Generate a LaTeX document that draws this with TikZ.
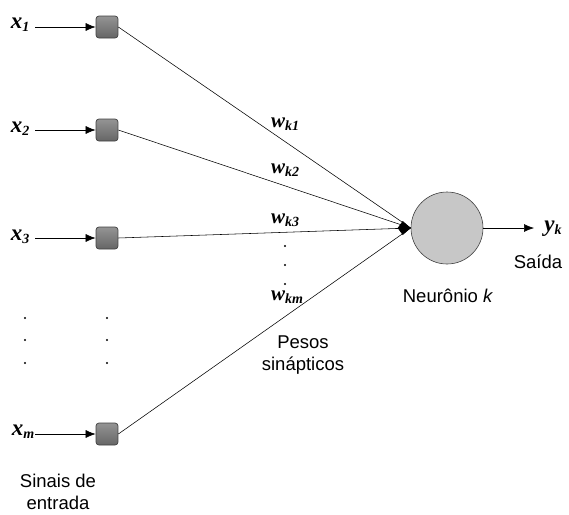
\documentclass[tikz,border=0pt]{standalone}
\usepackage{fontspec}
\setmainfont{Liberation Serif}
\setsansfont{Liberation Sans}
\usetikzlibrary{arrows.meta}
\newcommand{\sbs}[1]{\raisebox{-0.3ex}{\fontsize{14}{14}\selectfont #1}}
\begin{document}
\begin{tikzpicture}[x=1pt,y=-1pt,
  inbox/.style={draw=black!75,line width=0.7pt,rounded corners=3pt,minimum size=22pt,inner sep=0pt,top color=black!42,bottom color=black!60},
  sig/.style={font=\fontsize{23}{23}\selectfont\bfseries\itshape,inner sep=0pt},
  wlab/.style={font=\fontsize{21}{21}\selectfont\bfseries\itshape,inner sep=0pt},
  txt/.style={font=\fontsize{18.5}{22}\selectfont\sffamily,align=center,inner sep=0pt},
  conn/.style={line width=0.55pt},
  arr/.style={line width=0.6pt,-{Latex[length=10pt,width=8pt]}},
  vdot/.style={circle,fill=black,inner sep=0pt,minimum size=2.4pt}]
\useasboundingbox (0,0) rectangle (569,514);

% input signals
\node[sig] (x1) at (20,25) {x\sbs{1}};
\node[sig] (x2) at (20,129) {x\sbs{2}};
\node[sig] (x3) at (20,237) {x\sbs{3}};
\node[sig] (xm) at (23,432) {x\sbs{m}};

% synapse boxes
\node[inbox] (b1) at (107,27) {};
\node[inbox] (b2) at (107,130) {};
\node[inbox] (b3) at (107,238) {};
\node[inbox] (bm) at (107,434) {};

\draw[arr] (35,27) -- (b1.west);
\draw[arr] (35,130) -- (b2.west);
\draw[arr] (35,238) -- (b3.west);
\draw[arr] (35,434) -- (bm.west);

% neuron
\node[circle,draw=black!75,line width=0.6pt,fill=black!22,minimum size=72pt,inner sep=0pt] (nk) at (447,228) {};
\coordinate (sum) at (nk.west);

\draw[conn] (b1.east) -- (sum);
\draw[conn] (b2.east) -- (sum);
\draw[conn] (b3.east) -- (sum);
\draw[conn] (bm.east) -- (sum);
\draw[line width=0.6pt,-{Kite[length=13pt,width=14pt,inset=5pt]}] (396,228) -- (sum);

% output
\coordinate (out) at (534,228);
\draw[arr] (nk.east) -- (out);
\node[sig] (yk) at (553,229) {y\sbs{k}};
\node[txt] (said) at (538,262) {Saída};
\node[txt] (neur) at (448,296) {Neurônio \textit{k}};

% weights
\node[wlab] (w1) at (285,124) {w\sbs{k1}};
\node[wlab] (w2) at (285,170) {w\sbs{k2}};
\node[wlab] (w3) at (285,220) {w\sbs{k3}};
\node[wlab] (wm) at (287,297) {w\sbs{km}};
\node[vdot] at (285,246) {};
\node[vdot] at (285,265) {};
\node[vdot] at (285,284) {};
\node[txt] (pesos) at (303,355) {Pesos\\sinápticos};

% ellipsis between inputs
\foreach \yy in {318,340,363} {
  \node[vdot] at (25,\yy) {};
  \node[vdot] at (107,\yy) {};
}
\node[txt] (sinais) at (58,492) {Sinais de\\entrada};
\end{tikzpicture}
\end{document}
